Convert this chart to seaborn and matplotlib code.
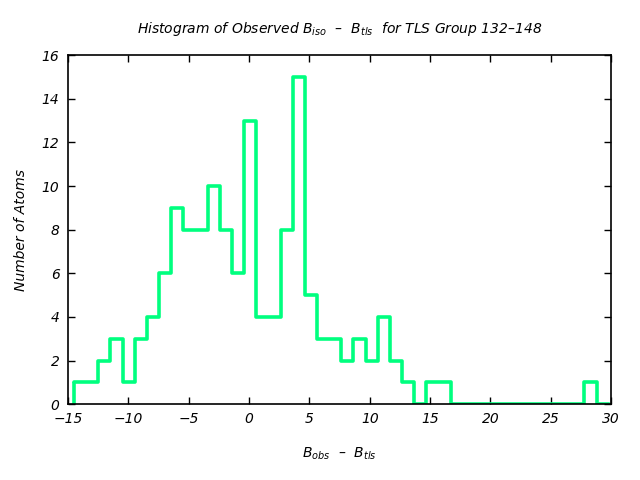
import numpy as np
import pandas as pd
import matplotlib
matplotlib.use("Agg")
import matplotlib.pyplot as plt
import seaborn as sns

# Bin edges (approx. 1.0 wide) and counts
bin_start = -14.5
bin_width = 1.0068
counts = [1, 1, 2, 3, 1, 3, 4, 6, 9, 8, 8, 10, 8, 6, 13, 4, 4, 8, 15, 5,
          3, 3, 2, 3, 2, 4, 2, 1, 0, 1, 1, 0, 0, 0, 0, 0, 0, 0, 0, 0,
          0, 0, 1, 0]
xticks = [-15, -10, -5, 0, 5, 10, 15, 20, 25, 30]
yticks = [0, 2, 4, 6, 8, 10, 12, 14, 16]

nbins = len(counts)
bin_end = bin_start + bin_width * nbins
centers = bin_start + bin_width * (np.arange(nbins) + 0.5)
df = pd.DataFrame({"x": centers, "w": np.array(counts, dtype=float)})

sns.set_style("ticks")
plt.rcParams["font.family"] = ["DejaVu Sans"]
plt.rcParams["font.style"] = "italic"
plt.rcParams["mathtext.fontset"] = "custom"
plt.rcParams["mathtext.it"] = "DejaVu Sans:italic"
plt.rcParams["mathtext.rm"] = "DejaVu Sans:italic"
plt.rcParams["mathtext.default"] = "it"
plt.rcParams["text.color"] = "black"
plt.rcParams["axes.labelcolor"] = "black"
plt.rcParams["xtick.color"] = "black"
plt.rcParams["ytick.color"] = "black"

line_color = "#00ff7f"
fig = plt.figure(figsize=(6.4, 4.8), dpi=100)
ax = fig.add_axes([0.106, 0.158, 0.849, 0.727])

sns.histplot(data=df, x="x", weights="w", bins=nbins,
             binrange=(bin_start, bin_end), element="step",
             fill=False, color=line_color, linewidth=2.6, ax=ax)
# closing left edge of the step outline (from baseline up to the first bin)
ax.plot([bin_start, bin_start], [0, counts[0]], color=line_color,
        linewidth=2.6, solid_capstyle="butt")

ax.set_xlim(-15, 30)
ax.set_ylim(0, 16)
ax.set_xticks(xticks)
ax.set_yticks(yticks)
ax.tick_params(direction="in", top=True, right=True, length=5, width=1,
               labelsize=10, pad=6, colors="black")
ax.set_xticklabels([str(t).replace("-", "\u2212") for t in xticks])
ax.set_yticklabels([str(t) for t in yticks])
for lab in ax.get_xticklabels() + ax.get_yticklabels():
    lab.set_fontstyle("italic")
for s in ax.spines.values():
    s.set_linewidth(1.2)
    s.set_color("black")

ax.set_xlabel("B$_{obs}$  \u2013  B$_{tls}$", fontsize=10, labelpad=14,
              fontstyle="italic", color="black")
ax.set_ylabel("Number of Atoms", fontsize=10, labelpad=10, fontstyle="italic",
              color="black")
ax.set_title("Histogram of Observed B$_{iso}$  \u2013  B$_{tls}$  for TLS Group 132\u2013148",
             fontsize=10, pad=16, fontstyle="italic", color="black")

fig.savefig("out.png", dpi=100)
